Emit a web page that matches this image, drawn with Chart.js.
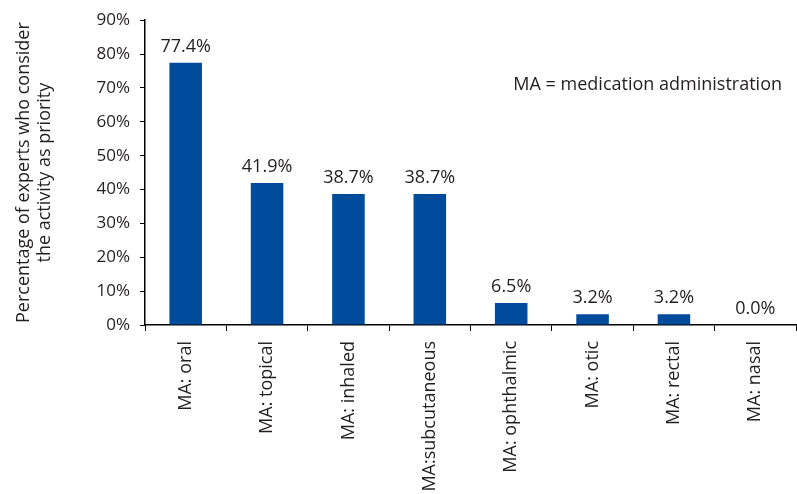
<!DOCTYPE html>
<html lang="en">
<head>
    <meta charset="UTF-8">
    <title>Medication administration priorities</title>
    <script src="https://cdn.jsdelivr.net/npm/chart.js"></script>
    <style>
        html, body { margin: 0; padding: 0; background: #fff; }
        #wrap { width: 797px; height: 494px; }
    </style>
</head>
<body>
    <div id="wrap"><canvas id="grafico" width="797" height="494"></canvas></div>

    <script>
        // Datos
        const categories = ['MA: oral', 'MA: topical', 'MA: inhaled', 'MA:subcutaneous',
                            'MA: ophthalmic', 'MA: otic', 'MA: rectal', 'MA: nasal'];
        const percentages = [77.4, 41.9, 38.7, 38.7, 6.5, 3.2, 3.2, 0.0];
        const yTicks = [0, 10, 20, 30, 40, 50, 60, 70, 80, 90];
        const yTitle = ['Percentage of experts who consider', 'the activity as priority'];
        const note = 'MA = medication administration';

        const FONT = '"Open Sans", Lato, sans-serif';
        const TEXT = '#231f20';

        // etiquetas encima de cada barra + nota
        const labelPlugin = {
            id: 'barLabels',
            afterDatasetsDraw(chart) {
                const ctx = chart.ctx;
                const meta = chart.getDatasetMeta(0);
                ctx.save();
                ctx.font = '18px ' + FONT;
                ctx.fillStyle = TEXT;
                ctx.textAlign = 'center';
                ctx.textBaseline = 'bottom';
                meta.data.forEach((bar, i) => {
                    ctx.fillText(percentages[i].toFixed(1) + '%', bar.x, bar.y - 7);
                });
                ctx.textAlign = 'right';
                ctx.textBaseline = 'middle';
                ctx.fillText(note, chart.chartArea.right - 14, 85);
                ctx.restore();
            }
        };

        const ctx = document.getElementById('grafico').getContext('2d');
        const chart = new Chart(ctx, {
            type: 'bar',
            data: {
                labels: categories,
                datasets: [{
                    data: percentages,
                    backgroundColor: '#004b9b',
                    borderWidth: 0,
                    categoryPercentage: 0.4,
                    barPercentage: 1.0
                }]
            },
            options: {
                responsive: false,
                animation: false,
                layout: { padding: { top: 20, right: 1, left: 0, bottom: 0 } },
                plugins: {
                    legend: { display: false },
                    tooltip: { enabled: false }
                },
                scales: {
                    x: {
                        grid: {
                            offset: true,
                            drawOnChartArea: false,
                            tickLength: 6,
                            color: '#000'
                        },
                        border: { color: '#000', width: 1.5 },
                        ticks: {
                            minRotation: 90,
                            maxRotation: 90,
                            padding: 10,
                            color: TEXT,
                            font: { family: FONT, size: 18 }
                        },
                        afterFit(scale) { scale.height = 169; }
                    },
                    y: {
                        min: 0,
                        max: 90,
                        afterBuildTicks(scale) {
                            scale.ticks = yTicks.map(v => ({ value: v }));
                        },
                        grid: {
                            drawOnChartArea: false,
                            tickLength: 5,
                            color: '#000'
                        },
                        border: { color: '#000', width: 1.5 },
                        ticks: {
                            padding: 10,
                            color: TEXT,
                            font: { family: FONT, size: 17 },
                            callback: v => v + '%'
                        },
                        title: {
                            display: true,
                            text: yTitle,
                            color: TEXT,
                            font: { family: FONT, size: 18, lineHeight: 1.15 },
                            padding: { top: 14, bottom: 0 }
                        },
                        afterFit(scale) { scale.width = 145; }
                    }
                }
            },
            plugins: [labelPlugin]
        });
    </script>
</body>
</html>
